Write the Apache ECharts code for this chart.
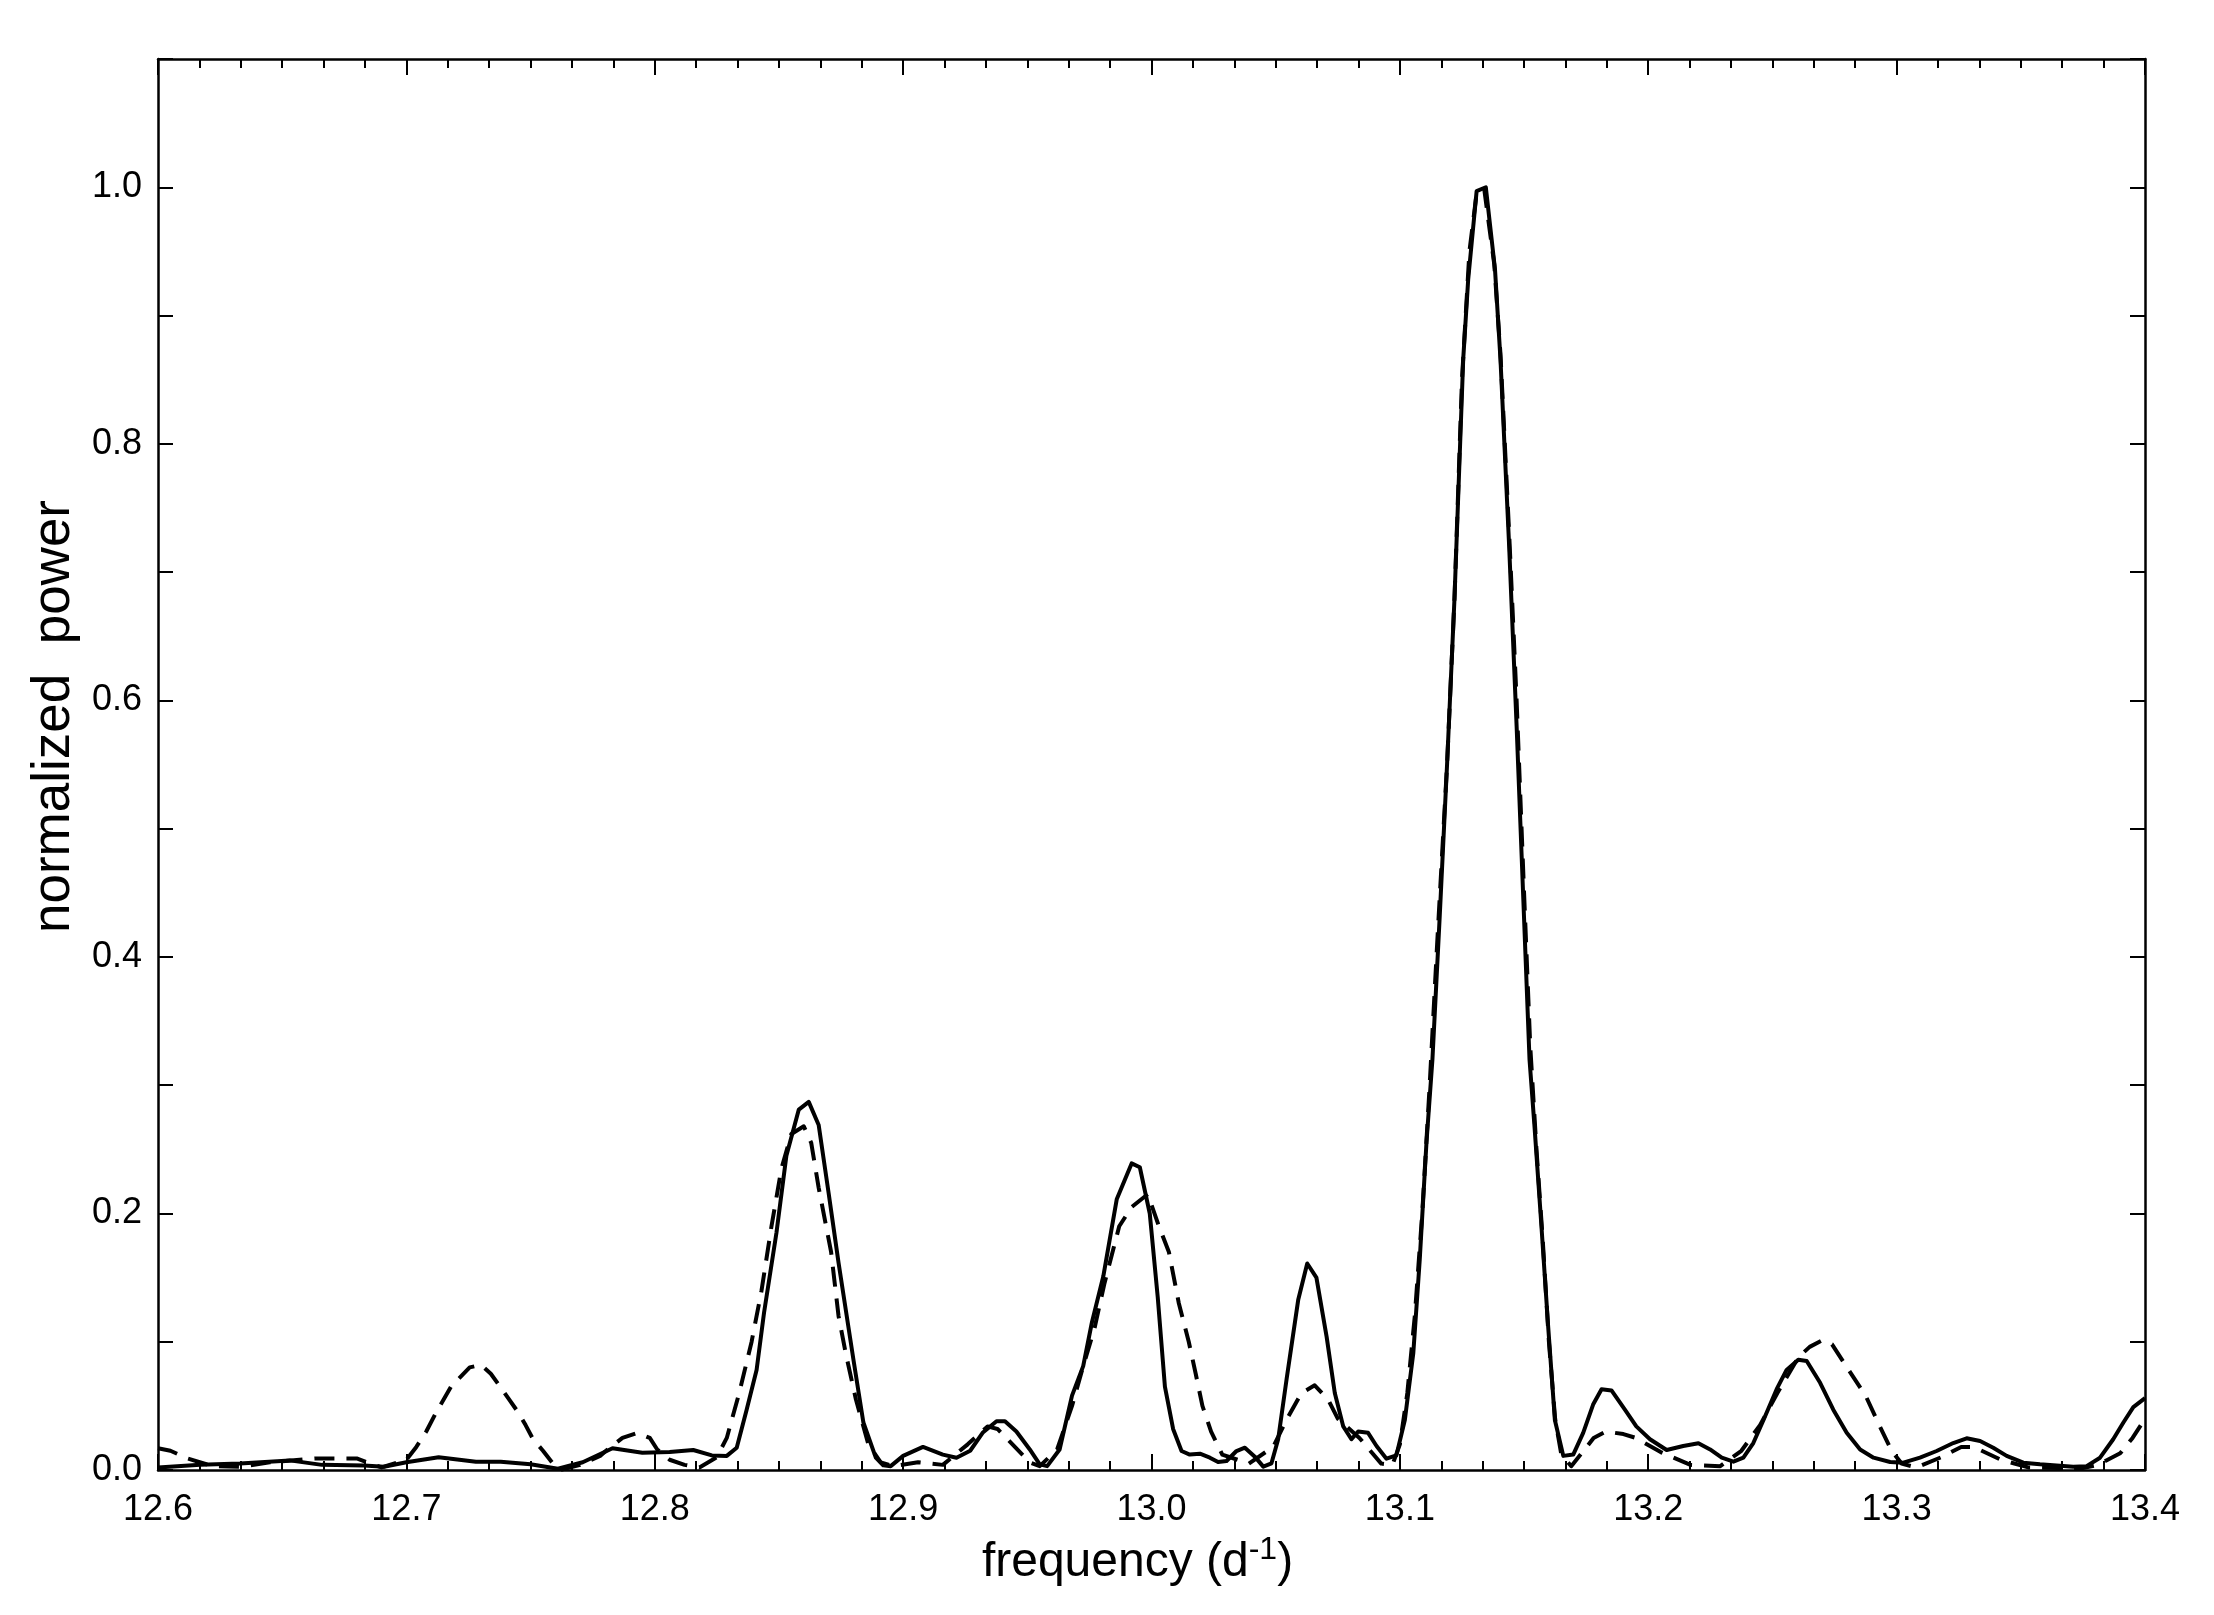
<!DOCTYPE html>
<html>
<head>
<meta charset="utf-8">
<script src="https://cdn.jsdelivr.net/npm/echarts@6/dist/echarts.min.js"></script>
<style>
html,body{margin:0;padding:0;background:#fff;}
#chart{width:2214px;height:1615px;}
</style>
</head>
<body>
<div id="chart"></div>
<script>
// ---- data ----
const xTickLabels = ['12.6','12.7','12.8','12.9','13.0','13.1','13.2','13.3','13.4'];
const yTickLabels = ['0.0','0.2','0.4','0.6','0.8','1.0'];

const freqSolid = [12.600,12.617,12.633,12.653,12.666,12.683,12.691,12.700,12.713,12.728,12.738,12.750,12.761,12.771,12.783,12.795,12.806,12.8155,12.823,12.829,12.833,12.837,12.841,12.844,12.849,12.853,12.858,12.862,12.866,12.870,12.874,12.880,12.884,12.889,12.892,12.895,12.900,12.908,12.916,12.9215,12.927,12.932,12.9376,12.941,12.9456,12.951,12.955,12.958,12.963,12.968,12.9725,12.976,12.9806,12.986,12.992,12.9953,12.9993,13.0025,13.0054,13.0087,13.0121,13.0154,13.0195,13.0235,13.0268,13.0302,13.0342,13.0376,13.0416,13.0450,13.0483,13.0510,13.0544,13.0591,13.0627,13.0664,13.0705,13.0738,13.0772,13.0805,13.0832,13.0872,13.0906,13.0946,13.0986,13.1020,13.1054,13.1080,13.1107,13.1131,13.116,13.119,13.122,13.1255,13.1275,13.1309,13.1346,13.1383,13.1405,13.144,13.147,13.150,13.1522,13.1542,13.1570,13.1597,13.1624,13.1658,13.1698,13.1738,13.1778,13.1812,13.1852,13.1906,13.1952,13.2007,13.2074,13.2141,13.2202,13.2249,13.2296,13.2343,13.2383,13.2423,13.2464,13.2517,13.2557,13.2604,13.2638,13.2692,13.2745,13.2799,13.2853,13.2907,13.2974,13.3027,13.3094,13.3161,13.3228,13.3282,13.3336,13.3389,13.3443,13.3510,13.3577,13.3644,13.3711,13.3765,13.3819,13.3872,13.3913,13.3953,13.400];
const powerSolid = [0.002,0.004,0.005,0.0075,0.004,0.0035,0.0025,0.006,0.010,0.0065,0.0065,0.0045,0.001,0.006,0.017,0.0135,0.014,0.0156,0.0114,0.011,0.0174,0.047,0.078,0.1226,0.185,0.245,0.281,0.287,0.269,0.216,0.1616,0.086,0.037,0.0096,0.0036,0.003,0.011,0.018,0.012,0.0096,0.015,0.029,0.038,0.038,0.030,0.016,0.0044,0.003,0.016,0.058,0.081,0.115,0.151,0.211,0.239,0.236,0.200,0.135,0.065,0.032,0.0148,0.012,0.0127,0.0096,0.0062,0.007,0.0148,0.0174,0.0104,0.0026,0.0052,0.024,0.071,0.133,0.161,0.150,0.104,0.060,0.034,0.024,0.030,0.029,0.0187,0.0088,0.0114,0.039,0.091,0.164,0.255,0.32,0.43,0.55,0.68,0.866,0.928,0.997,1.0,0.936,0.866,0.72,0.58,0.43,0.32,0.268,0.19,0.112,0.039,0.011,0.012,0.029,0.051,0.063,0.062,0.047,0.034,0.024,0.0156,0.0187,0.0208,0.016,0.0096,0.0065,0.0096,0.021,0.039,0.063,0.078,0.086,0.085,0.068,0.047,0.029,0.016,0.0096,0.0062,0.0057,0.0096,0.0148,0.021,0.0247,0.0226,0.0174,0.011,0.0057,0.0044,0.0036,0.0026,0.003,0.0096,0.024,0.037,0.049,0.056];

const freqDashed = [12.600,12.605,12.612,12.622,12.633,12.645,12.663,12.680,12.690,12.700,12.704,12.708,12.712,12.718,12.7255,12.730,12.734,12.737,12.741,12.745,12.748,12.751,12.755,12.759,12.762,12.770,12.778,12.781,12.787,12.793,12.798,12.801,12.806,12.812,12.818,12.825,12.829,12.834,12.839,12.843,12.847,12.851,12.855,12.860,12.863,12.866,12.871,12.874,12.877,12.881,12.886,12.891,12.896,12.906,12.916,12.926,12.934,12.938,12.945,12.951,12.955,12.962,12.968,12.9725,12.977,12.981,12.987,12.992,12.9985,13.003,13.007,13.011,13.015,13.0178,13.0205,13.024,13.0285,13.0392,13.049,13.0546,13.0604,13.0657,13.0711,13.075,13.0837,13.0925,13.097,13.100,13.103,13.106,13.109,13.112,13.115,13.119,13.122,13.125,13.128,13.131,13.134,13.138,13.1405,13.144,13.147,13.150,13.1525,13.155,13.1575,13.160,13.1625,13.165,13.169,13.174,13.178,13.183,13.190,13.195,13.205,13.217,13.229,13.2375,13.245,13.252,13.2605,13.265,13.270,13.274,13.280,13.2875,13.293,13.298,13.302,13.308,13.318,13.326,13.331,13.342,13.353,13.365,13.375,13.381,13.390,13.395,13.400];
const powerDashed = [0.017,0.015,0.009,0.003,0.0025,0.006,0.009,0.009,0.002,0.008,0.018,0.030,0.045,0.065,0.080,0.082,0.075,0.067,0.056,0.045,0.035,0.024,0.015,0.005,0.0,0.004,0.011,0.016,0.025,0.029,0.025,0.016,0.008,0.004,0.002,0.010,0.025,0.06,0.10,0.14,0.19,0.235,0.262,0.268,0.255,0.22,0.17,0.12,0.09,0.055,0.02,0.006,0.003,0.006,0.004,0.02,0.034,0.032,0.018,0.006,0.003,0.016,0.05,0.081,0.11,0.145,0.19,0.205,0.215,0.19,0.17,0.13,0.10,0.075,0.05,0.03,0.012,0.005,0.018,0.04,0.06,0.066,0.055,0.04,0.025,0.005,0.004,0.02,0.06,0.12,0.2,0.3,0.41,0.55,0.68,0.85,0.95,0.997,0.998,0.94,0.87,0.73,0.6,0.45,0.33,0.25,0.18,0.1,0.04,0.012,0.003,0.015,0.025,0.03,0.028,0.025,0.014,0.004,0.003,0.015,0.035,0.06,0.088,0.096,0.101,0.098,0.08,0.058,0.035,0.015,0.005,0.002,0.01,0.018,0.018,0.008,0.002,0.0015,0.0015,0.004,0.013,0.025,0.04];

const solidData = freqSolid.map((f, i) => [f, powerSolid[i]]);
const dashedData = freqDashed.map((f, i) => [f, powerDashed[i]]);

const FONT = "'Liberation Sans', Arial, sans-serif";
const chart = echarts.init(document.getElementById('chart'), null, {renderer: 'canvas'});

const xLabelFmt = v => {
  const s = v.toFixed(1);
  return xTickLabels.indexOf(s) >= 0 ? s : '';
};
const yLabelFmt = v => {
  const s = v.toFixed(1);
  return yTickLabels.indexOf(s) >= 0 ? s : '';
};

const axisLine = {show: true, onZero: false, lineStyle: {color: '#000', width: 2.5}};

chart.setOption({
  backgroundColor: '#fff',
  animation: false,
  grid: {left: 158, right: 69, top: 59, bottom: 145, containLabel: false, outerBoundsMode: 'none'},
  xAxis: [
    {
      type: 'value', position: 'bottom', min: 12.6, max: 13.4, interval: 0.1,
      axisLine: axisLine,
      axisTick: {show: true, inside: true, length: 16, lineStyle: {color: '#000', width: 2}},
      minorTick: {show: true, splitNumber: 6, length: 9, lineStyle: {color: '#000', width: 2}},
      splitLine: {show: false}, minorSplitLine: {show: false},
      axisLabel: {show: true, formatter: xLabelFmt, color: '#000', fontSize: 36, fontFamily: FONT, margin: 22},
      name: 'frequency (d{sup|-1})', nameLocation: 'middle', nameGap: 64,
      nameTextStyle: {color: '#000', fontSize: 48, fontFamily: FONT, padding: [0, 28, 0, 0],
        rich: {sup: {fontSize: 32, fontFamily: FONT, color: '#000', verticalAlign: 'top', padding: [0, 0, 26, 0]}}}
    },
    {
      type: 'value', position: 'top', min: 12.6, max: 13.4, interval: 0.1,
      axisLine: axisLine,
      axisTick: {show: true, inside: true, length: 16, lineStyle: {color: '#000', width: 2}},
      minorTick: {show: true, splitNumber: 6, length: 9, lineStyle: {color: '#000', width: 2}},
      splitLine: {show: false}, axisLabel: {show: false}
    }
  ],
  yAxis: [
    {
      type: 'value', position: 'left', min: 0, max: 1.1, interval: 0.1,
      axisLine: axisLine,
      axisTick: {show: true, inside: true, length: 15, lineStyle: {color: '#000', width: 2}},
      splitLine: {show: false},
      axisLabel: {show: true, formatter: yLabelFmt, color: '#000', fontSize: 36, fontFamily: FONT, margin: 16},
      name: 'normalized  power', nameLocation: 'middle', nameGap: 74, nameRotate: 90,
      nameTextStyle: {color: '#000', fontSize: 53, fontFamily: FONT, padding: [0, 0, 0, 96]}
    },
    {
      type: 'value', position: 'right', min: 0, max: 1.1, interval: 0.1,
      axisLine: axisLine,
      axisTick: {show: true, inside: true, length: 15, lineStyle: {color: '#000', width: 2}},
      splitLine: {show: false}, axisLabel: {show: false}
    }
  ],
  series: [
    {
      name: 'solid', type: 'line', xAxisIndex: 0, yAxisIndex: 0, data: solidData,
      showSymbol: false, symbol: 'none', clip: true,
      lineStyle: {color: '#000', width: 4, type: 'solid', join: 'round'}
    },
    {
      name: 'dashed', type: 'line', xAxisIndex: 0, yAxisIndex: 0, data: dashedData,
      showSymbol: false, symbol: 'none', clip: true,
      lineStyle: {color: '#000', width: 4, type: [20, 12], join: 'round'}
    }
  ]
});
</script>
</body>
</html>
